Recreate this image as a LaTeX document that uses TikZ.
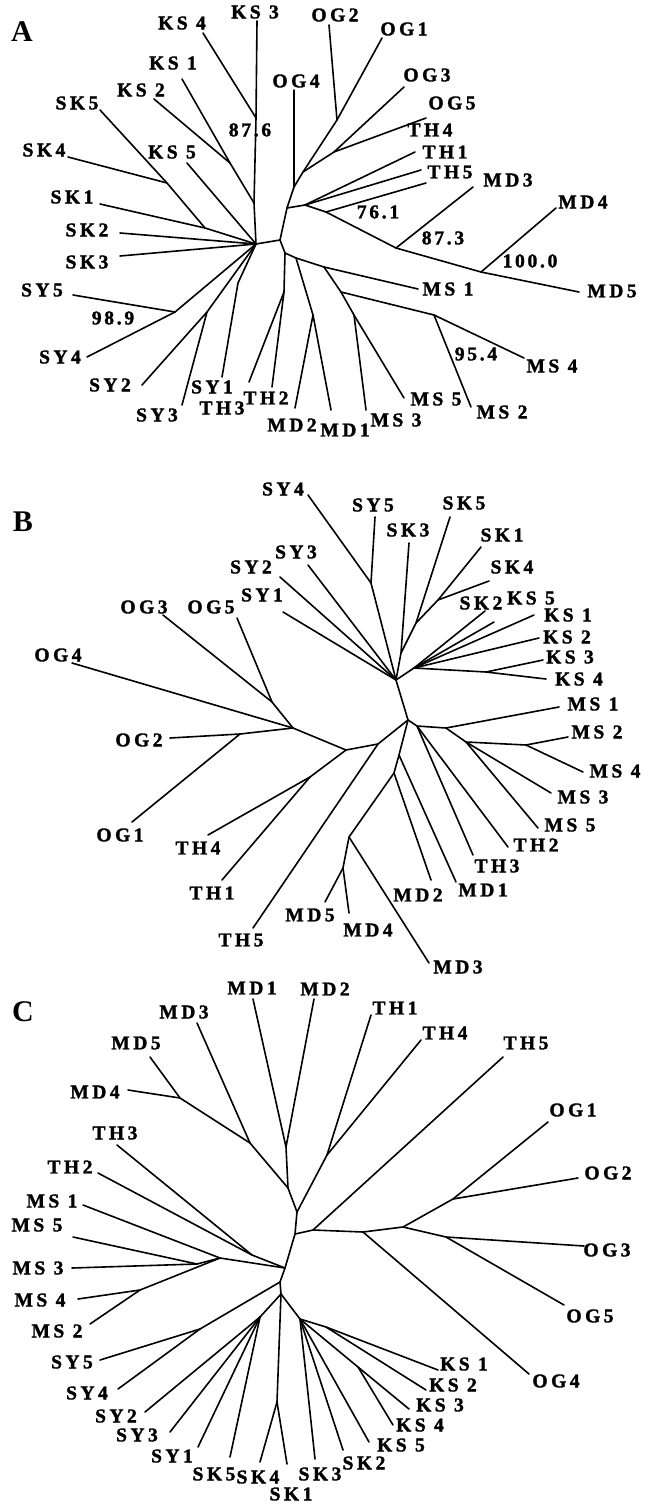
\documentclass[tikz,border=0pt]{standalone}
\usepackage{fontspec}
\setmainfont{Liberation Serif}
\newfontfamily\lblfont[LetterSpace=18,FakeBold=1.6]{Liberation Serif Bold}
\newfontfamily\numfont[LetterSpace=14,FakeBold=1.6]{Liberation Serif Bold}
\tikzset{
  br/.style={line width=1.6pt, line cap=round, line join=round},
  lab/.style={font=\lblfont\fontsize{19.5}{20}\selectfont, inner sep=0pt, anchor=center},
  bsv/.style={font=\numfont\fontsize{19.5}{20}\selectfont, inner sep=0pt, anchor=center},
  panel/.style={font=\bfseries\fontsize{30}{30}\selectfont, inner sep=0pt, anchor=center}
}
\newcommand\lf[4]{\coordinate (#1) at (#2);\node[lab] (l#1) at (#3) {#4};}
\begin{document}
\begin{tikzpicture}[x=1pt,y=-1pt]
\useasboundingbox (0,0) rectangle (656,1507);
% ================= Panel A =================
\node[panel] (pA) at (22,32) {A};
\coordinate (jaL) at (256,244);
\coordinate (jaR) at (280,240);
\coordinate (jaKa) at (256,118);
\coordinate (jaKb) at (254,203);
\coordinate (jaK12) at (230,163);
\coordinate (jaSK45) at (167,183);
\coordinate (jaSK) at (205,228);
\coordinate (jaOG) at (294,187);
\coordinate (jaOGj) at (303,172);
\coordinate (jaOG12) at (337,120);
\coordinate (jaOG35) at (334,152);
\coordinate (jaTM) at (287,208);
\coordinate (jaTH) at (305,205);
\coordinate (jaTM2) at (326,212);
\coordinate (jaMD3) at (396,248);
\coordinate (jaMD4) at (481,272);
\coordinate (jaR2) at (285,253);
\coordinate (jaTH23) at (284,292);
\coordinate (jaR3) at (296,258);
\coordinate (jaMD12) at (313,315);
\coordinate (jaMS) at (324,267);
\coordinate (jaMS2) at (341,292);
\coordinate (jaMS24) at (434,315);
\coordinate (jaMS35) at (354,315);
\coordinate (jaSY45) at (175,312);
\coordinate (jaSY23) at (207,312);
\coordinate (jaSY1) at (238,283);
\lf{aKS3}{257,21}{255,12}{KS 3}
\lf{aKS4}{203,33}{182,23}{KS 4}
\lf{aKS1}{182,79}{173,63}{KS 1}
\lf{aKS2}{154,99}{141,90}{KS 2}
\lf{aKS5}{187,163}{172,152}{KS 5}
\lf{aSK5}{100,110}{77,103}{SK5}
\lf{aSK4}{68,157}{44,150}{SK4}
\lf{aSK1}{100,204}{72,197}{SK1}
\lf{aSK2}{120,233}{87,230}{SK2}
\lf{aSK3}{120,256}{87,262}{SK3}
\lf{aOG4}{294,90}{296,81}{OG4}
\lf{aOG2}{329,25}{335,15}{OG2}
\lf{aOG1}{382,38}{404,29}{OG1}
\lf{aOG3}{404,87}{427,75}{OG3}
\lf{aOG5}{426,118}{452,103}{OG5}
\lf{aTH4}{415,152}{430,130}{TH4}
\lf{aTH1}{421,170}{445,152}{TH1}
\lf{aTH5}{426,183}{450,172}{TH5}
\lf{aMD3}{473,187}{508,180}{MD3}
\lf{aMD4}{556,208}{583,202}{MD4}
\lf{aMD5}{579,292}{612,291}{MD5}
\lf{aMS1}{418,289}{448,289}{MS 1}
\lf{aMS4}{524,358}{552,366}{MS 4}
\lf{aMS2}{471,407}{502,412}{MS 2}
\lf{aMS5}{404,398}{436,399}{MS 5}
\lf{aMS3}{366,410}{396,420}{MS 3}
\lf{aMD1}{331,410}{345,430}{MD1}
\lf{aMD2}{295,408}{292,425}{MD2}
\lf{aTH2}{272,387}{266,398}{TH2}
\lf{aTH3}{249,382}{222,408}{TH3}
\lf{aSY1}{222,377}{212,387}{SY1}
\lf{aSY3}{182,405}{157,415}{SY3}
\lf{aSY2}{142,385}{110,385}{SY2}
\lf{aSY4}{87,357}{60,357}{SY4}
\lf{aSY5}{73,295}{42,290}{SY5}
\node[bsv] (bA1) at (250,130) {87.6};
\node[bsv] (bA2) at (378,212) {76.1};
\node[bsv] (bA3) at (443,238) {87.3};
\node[bsv] (bA4) at (530,261) {100.0};
\node[bsv] (bA5) at (476,354) {95.4};
\node[bsv] (bA6) at (113,318) {98.9};
\draw[br] (aKS3) -- (jaKa) -- (jaKb) -- (jaL);
\draw[br] (aKS4) -- (jaKa);
\draw[br] (aKS1) -- (jaK12) -- (jaKb);
\draw[br] (aKS2) -- (jaK12);
\draw[br] (aKS5) -- (jaL);
\draw[br] (aSK5) -- (jaSK45) -- (jaSK) -- (jaL);
\draw[br] (aSK4) -- (jaSK45);
\draw[br] (aSK1) -- (jaSK);
\draw[br] (aSK2) -- (jaL);
\draw[br] (aSK3) -- (jaL);
\draw[br] (jaL) -- (jaR) -- (jaTM) -- (jaOG) -- (aOG4);
\draw[br] (jaOG) -- (jaOGj) -- (jaOG12) -- (aOG1);
\draw[br] (jaOG12) -- (aOG2);
\draw[br] (jaOGj) -- (jaOG35) -- (aOG3);
\draw[br] (jaOG35) -- (aOG5);
\draw[br] (jaTM) -- (jaTH) -- (aTH4);
\draw[br] (jaTH) -- (aTH1);
\draw[br] (jaTH) -- (jaTM2) -- (aTH5);
\draw[br] (jaTM2) -- (jaMD3) -- (jaMD4) -- (aMD5);
\draw[br] (jaMD3) -- (aMD3);
\draw[br] (jaMD4) -- (aMD4);
\draw[br] (jaR) -- (jaR2) -- (jaTH23) -- (aTH2);
\draw[br] (jaTH23) -- (aTH3);
\draw[br] (jaR2) -- (jaR3) -- (jaMD12) -- (aMD1);
\draw[br] (jaMD12) -- (aMD2);
\draw[br] (jaR3) -- (jaMS) -- (aMS1);
\draw[br] (jaMS) -- (jaMS2) -- (jaMS24) -- (aMS4);
\draw[br] (jaMS24) -- (aMS2);
\draw[br] (jaMS2) -- (jaMS35) -- (aMS5);
\draw[br] (jaMS35) -- (aMS3);
\draw[br] (jaL) -- (jaSY45) -- (aSY4);
\draw[br] (jaSY45) -- (aSY5);
\draw[br] (jaL) -- (jaSY23) -- (aSY2);
\draw[br] (jaSY23) -- (aSY3);
\draw[br] (jaL) -- (jaSY1) -- (aSY1);
% ================= Panel B =================
\node[panel] (pB) at (23,522) {B};
\coordinate (jbT) at (396,680);
\coordinate (jbC) at (408,720);
\coordinate (jbSY45) at (371,583);
\coordinate (jbSK) at (401,653);
\coordinate (jbSK5) at (416,623);
\coordinate (jbSK14) at (438,600);
\coordinate (jbKS) at (414,668);
\coordinate (jbKS34) at (486,672);
\coordinate (jbTH23) at (417,726);
\coordinate (jbMS1) at (446,728);
\coordinate (jbMS35) at (466,742);
\coordinate (jbMS24) at (526,745);
\coordinate (jbMD) at (399,755);
\coordinate (jbMD2) at (394,773);
\coordinate (jbMD345) at (349,837);
\coordinate (jbMD45) at (343,868);
\coordinate (jbL) at (378,744);
\coordinate (jbL2) at (346,750);
\coordinate (jbTH14) at (310,777);
\coordinate (jbOG) at (293,728);
\coordinate (jbOG35) at (272,702);
\coordinate (jbOG12) at (240,734);
\lf{bSY4}{308,495}{283,489}{SY4}
\lf{bSY5}{375,517}{373,505}{SY5}
\lf{bSK3}{409,543}{408,530}{SK3}
\lf{bSK5}{450,517}{464,503}{SK5}
\lf{bSK1}{481,547}{502,535}{SK1}
\lf{bSK4}{489,581}{512,567}{SK4}
\lf{bSK2}{485,611}{481,603}{SK2}
\lf{bKS5}{494,622}{531,598}{KS 5}
\lf{bKS1}{534,615}{568,615}{KS 1}
\lf{bKS2}{539,638}{567,637}{KS 2}
\lf{bKS3}{543,660}{570,657}{KS 3}
\lf{bKS4}{546,679}{579,679}{KS 4}
\lf{bMS1}{559,707}{593,704}{MS 1}
\lf{bMS2}{568,737}{597,732}{MS 2}
\lf{bMS4}{583,772}{615,771}{MS 4}
\lf{bMS3}{551,793}{583,797}{MS 3}
\lf{bMS5}{538,828}{570,825}{MS 5}
\lf{bTH2}{508,847}{536,845}{TH2}
\lf{bTH3}{473,855}{497,866}{TH3}
\lf{bMD1}{456,882}{483,890}{MD1}
\lf{bMD2}{431,880}{418,895}{MD2}
\lf{bMD3}{429,963}{458,967}{MD3}
\lf{bMD4}{349,913}{368,930}{MD4}
\lf{bMD5}{325,902}{310,915}{MD5}
\lf{bTH5}{253,928}{241,940}{TH5}
\lf{bTH1}{222,880}{212,893}{TH1}
\lf{bTH4}{208,835}{198,848}{TH4}
\lf{bOG1}{132,822}{120,835}{OG1}
\lf{bOG2}{170,738}{139,740}{OG2}
\lf{bOG4}{72,663}{58,655}{OG4}
\lf{bOG3}{163,615}{144,607}{OG3}
\lf{bOG5}{237,618}{211,607}{OG5}
\lf{bSY1}{283,612}{262,595}{SY1}
\lf{bSY2}{280,577}{251,567}{SY2}
\lf{bSY3}{308,565}{296,552}{SY3}
\draw[br] (jbC) -- (jbT) -- (jbSY45) -- (bSY4);
\draw[br] (jbSY45) -- (bSY5);
\draw[br] (jbT) -- (jbSK) -- (bSK3);
\draw[br] (jbSK) -- (jbSK5) -- (bSK5);
\draw[br] (jbSK5) -- (jbSK14) -- (bSK1);
\draw[br] (jbSK14) -- (bSK4);
\draw[br] (jbT) -- (jbKS) -- (bSK2);
\draw[br] (jbKS) -- (bKS5);
\draw[br] (jbKS) -- (bKS1);
\draw[br] (jbKS) -- (bKS2);
\draw[br] (jbKS) -- (jbKS34) -- (bKS3);
\draw[br] (jbKS34) -- (bKS4);
\draw[br] (jbT) -- (bSY1);
\draw[br] (jbT) -- (bSY2);
\draw[br] (jbT) -- (bSY3);
\draw[br] (jbC) -- (jbTH23) -- (bTH3);
\draw[br] (jbTH23) -- (bTH2);
\draw[br] (jbTH23) -- (jbMS1) -- (bMS1);
\draw[br] (jbMS1) -- (jbMS35) -- (bMS3);
\draw[br] (jbMS35) -- (bMS5);
\draw[br] (jbMS35) -- (jbMS24) -- (bMS2);
\draw[br] (jbMS24) -- (bMS4);
\draw[br] (jbC) -- (jbMD) -- (bMD1);
\draw[br] (jbMD) -- (jbMD2) -- (bMD2);
\draw[br] (jbMD2) -- (jbMD345) -- (bMD3);
\draw[br] (jbMD345) -- (jbMD45) -- (bMD4);
\draw[br] (jbMD45) -- (bMD5);
\draw[br] (jbC) -- (jbL) -- (bTH5);
\draw[br] (jbL) -- (jbL2) -- (jbTH14) -- (bTH4);
\draw[br] (jbTH14) -- (bTH1);
\draw[br] (jbL2) -- (jbOG) -- (bOG4);
\draw[br] (jbOG) -- (jbOG35) -- (bOG3);
\draw[br] (jbOG35) -- (bOG5);
\draw[br] (jbOG) -- (jbOG12) -- (bOG2);
\draw[br] (jbOG12) -- (bOG1);
% ================= Panel C =================
\node[panel] (pC) at (23,1012) {C};
\coordinate (jcMD12) at (286,1147);
\coordinate (jcMD2j) at (288,1188);
\coordinate (jcMD345) at (250,1143);
\coordinate (jcMD45) at (180,1098);
\coordinate (jc1) at (297,1212);
\coordinate (jcTH14) at (327,1155);
\coordinate (jc2) at (295,1234);
\coordinate (jcOG0) at (313,1230);
\coordinate (jcOGa) at (363,1232);
\coordinate (jcOGb) at (403,1227);
\coordinate (jcOG12) at (453,1199);
\coordinate (jcOG35) at (446,1237);
\coordinate (jcL) at (285,1268);
\coordinate (jcMS) at (220,1258);
\coordinate (jcMS35) at (197,1264);
\coordinate (jcMS24) at (140,1290);
\coordinate (jcTH23) at (252,1255);
\coordinate (jcB) at (280,1282);
\coordinate (jcSY45) at (200,1329);
\coordinate (jcB2) at (281,1294);
\coordinate (jcSY) at (260,1317);
\coordinate (jcSK14) at (277,1402);
\coordinate (jcKS) at (300,1319);
\coordinate (jcKS34) at (358,1367);
\coordinate (jcKS12) at (326,1327);
\lf{cMD1}{253,999}{252,988}{MD1}
\lf{cMD2}{314,999}{325,989}{MD2}
\lf{cMD3}{197,1023}{184,1012}{MD3}
\lf{cMD5}{150,1057}{136,1043}{MD5}
\lf{cMD4}{128,1090}{95,1092}{MD4}
\lf{cTH3}{117,1145}{115,1133}{TH3}
\lf{cTH2}{98,1173}{70,1167}{TH2}
\lf{cMS1}{83,1205}{52,1201}{MS 1}
\lf{cMS5}{73,1237}{37,1225}{MS 5}
\lf{cMS3}{72,1268}{38,1268}{MS 3}
\lf{cMS4}{78,1299}{40,1300}{MS 4}
\lf{cMS2}{90,1324}{57,1331}{MS 2}
\lf{cSY5}{100,1360}{72,1362}{SY5}
\lf{cSY4}{118,1389}{87,1393}{SY4}
\lf{cSY2}{145,1412}{116,1416}{SY2}
\lf{cSY3}{170,1432}{137,1435}{SY3}
\lf{cSY1}{198,1447}{172,1456}{SY1}
\lf{cSK5}{230,1457}{214,1474}{SK5}
\lf{cSK4}{260,1462}{258,1477}{SK4}
\lf{cSK1}{287,1464}{291,1494}{SK1}
\lf{cSK3}{315,1459}{320,1474}{SK3}
\lf{cSK2}{343,1450}{364,1463}{SK2}
\lf{cKS5}{369,1442}{401,1445}{KS 5}
\lf{cKS4}{393,1425}{420,1425}{KS 4}
\lf{cKS3}{409,1409}{440,1405}{KS 3}
\lf{cKS2}{426,1390}{453,1385}{KS 2}
\lf{cKS1}{438,1370}{464,1364}{KS 1}
\lf{cOG4}{529,1374}{556,1381}{OG4}
\lf{cOG5}{564,1305}{590,1316}{OG5}
\lf{cOG3}{584,1246}{607,1250}{OG3}
\lf{cOG2}{578,1178}{608,1173}{OG2}
\lf{cOG1}{548,1122}{573,1110}{OG1}
\lf{cTH5}{503,1057}{526,1043}{TH5}
\lf{cTH4}{421,1040}{445,1033}{TH4}
\lf{cTH1}{371,1015}{395,1008}{TH1}
\draw[br] (cMD1) -- (jcMD12) -- (cMD2);
\draw[br] (jcMD12) -- (jcMD2j) -- (jc1);
\draw[br] (cMD3) -- (jcMD345) -- (jcMD2j);
\draw[br] (jcMD345) -- (jcMD45) -- (cMD5);
\draw[br] (jcMD45) -- (cMD4);
\draw[br] (jc1) -- (jcTH14) -- (cTH1);
\draw[br] (jcTH14) -- (cTH4);
\draw[br] (jc1) -- (jc2) -- (jcOG0) -- (cTH5);
\draw[br] (jcOG0) -- (jcOGa) -- (cOG4);
\draw[br] (jcOGa) -- (jcOGb) -- (jcOG12) -- (cOG1);
\draw[br] (jcOG12) -- (cOG2);
\draw[br] (jcOGb) -- (jcOG35) -- (cOG3);
\draw[br] (jcOG35) -- (cOG5);
\draw[br] (jc2) -- (jcL) -- (jcMS) -- (cMS1);
\draw[br] (jcMS) -- (jcMS35) -- (cMS5);
\draw[br] (jcMS35) -- (cMS3);
\draw[br] (jcMS) -- (jcMS24) -- (cMS4);
\draw[br] (jcMS24) -- (cMS2);
\draw[br] (jcL) -- (jcTH23) -- (cTH3);
\draw[br] (jcTH23) -- (cTH2);
\draw[br] (jcL) -- (jcB) -- (jcSY45) -- (cSY5);
\draw[br] (jcSY45) -- (cSY4);
\draw[br] (jcB) -- (jcB2) -- (jcSY) -- (cSY2);
\draw[br] (jcSY) -- (cSY3);
\draw[br] (jcSY) -- (cSY1);
\draw[br] (jcSY) -- (cSK5);
\draw[br] (jcB2) -- (jcSK14) -- (cSK4);
\draw[br] (jcSK14) -- (cSK1);
\draw[br] (jcB2) -- (jcKS) -- (cSK3);
\draw[br] (jcKS) -- (cSK2);
\draw[br] (jcKS) -- (cKS5);
\draw[br] (jcKS) -- (jcKS34) -- (cKS3);
\draw[br] (jcKS34) -- (cKS4);
\draw[br] (jcKS) -- (jcKS12) -- (cKS1);
\draw[br] (jcKS12) -- (cKS2);
\end{tikzpicture}
\end{document}
